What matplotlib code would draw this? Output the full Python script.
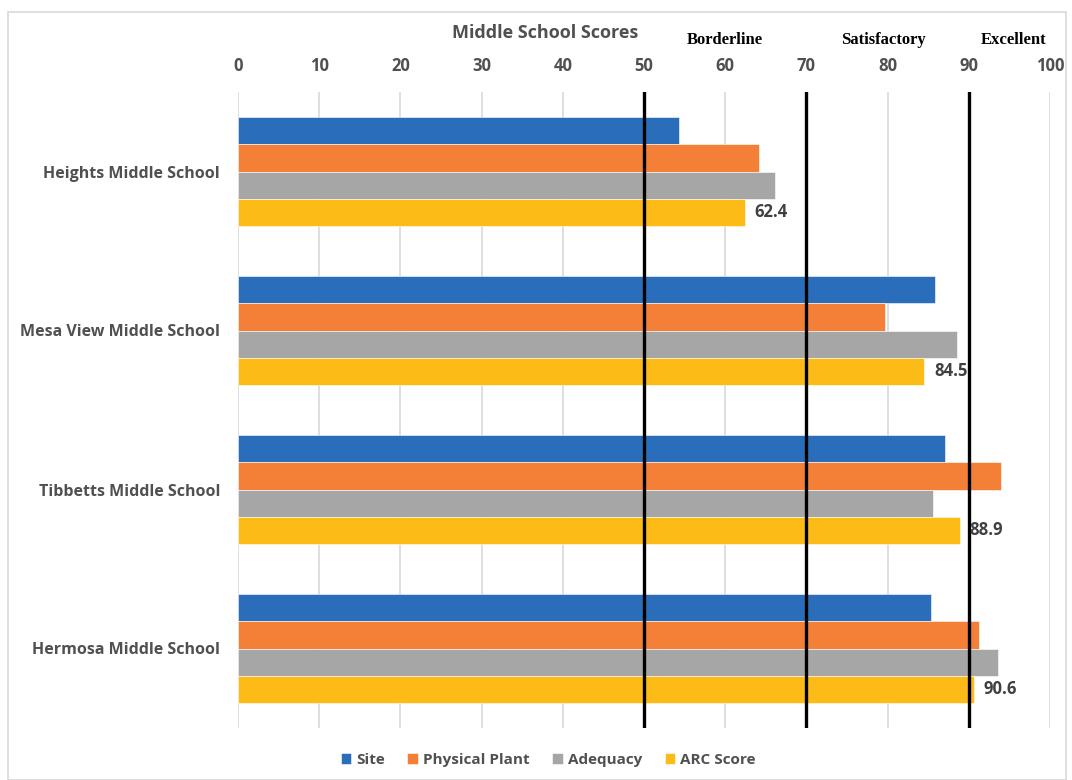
import matplotlib.pyplot as plt
import numpy as np
from matplotlib.patches import Rectangle

# Datos
escuelas = ["Heights Middle School", "Mesa View Middle School",
            "Tibbetts Middle School", "Hermosa Middle School"]
series = ["Site", "Physical Plant", "Adequacy", "ARC Score"]
site = [54.3, 85.8, 87.1, 85.3]
planta = [64.2, 79.7, 94.0, 91.3]
adecuacion = [66.1, 88.5, 85.6, 93.6]
arc = [62.4, 84.5, 88.9, 90.6]
umbrales = [50, 70, 90]
nombres_umbral = ["Borderline", "Satisfactory", "Excellent"]
pos_umbral = [60, 79.5, 95.5]

colores = ["#2a6ebb", "#f47f37", "#a6a6a6", "#fdbb18"]
gris = "#505050"
fuente = "Open Sans"

fig = plt.figure(figsize=(10.72, 7.80), dpi=100)
ax = fig.add_axes([238 / 1072, 1 - 728 / 780, 812 / 1072, 636 / 780])

# borde del area del grafico
fig.patches.append(Rectangle((8 / 1072, 0.0), 1058 / 1072, 1 - 12 / 780,
                             transform=fig.transFigure, fill=False,
                             edgecolor="#d9d9d9", linewidth=1.2))

y = np.arange(len(escuelas))
alto = 0.17
valores = [site, planta, adecuacion, arc]
for i, (nombre, vals) in enumerate(zip(series, valores)):
    off = (i - 1.5) * alto
    ax.barh(y + off, vals, height=alto, color=colores[i], label=nombre,
            edgecolor="white", linewidth=0.4, zorder=2)

# etiquetas de ARC
for yi, v in zip(y, arc):
    ax.text(v + 1.2, yi + 1.5 * alto, f"{v:.1f}", va="center", ha="left",
            fontsize=12, fontweight="bold", color="#404040", family=fuente, zorder=4)

for u in umbrales:
    ax.axvline(u, color="black", linewidth=2.4, zorder=3)

ax.set_xlim(0, 100)
ax.set_ylim(3.5, -0.5)
ax.set_xticks(range(0, 101, 10))
ax.xaxis.tick_top()
ax.tick_params(axis="x", length=0, pad=12, labelsize=12, labelcolor=gris)
ax.tick_params(axis="y", length=0, pad=13, labelsize=11.5, labelcolor=gris)
for lab in ax.get_xticklabels() + ax.get_yticklabels():
    lab.set_fontweight("bold")
    lab.set_family(fuente)
ax.set_yticks(y)
ax.set_yticklabels(escuelas)
ax.grid(axis="x", color="#d9d9d9", linewidth=1.2, zorder=0)
ax.set_axisbelow(True)
for s in ax.spines.values():
    s.set_visible(False)

fig.text(545 / 1072, 1 - 33 / 780, "Middle School Scores", ha="center", va="center",
         fontsize=13, fontweight="bold", color=gris, family=fuente)
for x, t in zip(pos_umbral, nombres_umbral):
    ax.text(x, 1 + 52 / 636, t, transform=ax.get_xaxis_transform(), ha="center",
            va="center", fontsize=12, fontweight="bold", color="black",
            family="Liberation Serif")

ax.legend(loc="center", bbox_to_anchor=(548 / 1072, 1 - 760 / 780),
          bbox_transform=fig.transFigure, ncol=4, frameon=False,
          prop={"family": fuente, "weight": "bold", "size": 11},
          labelcolor=gris, handlelength=0.7, handleheight=0.7,
          handletextpad=0.3, columnspacing=1.5)

plt.savefig("out.png", dpi=100)
